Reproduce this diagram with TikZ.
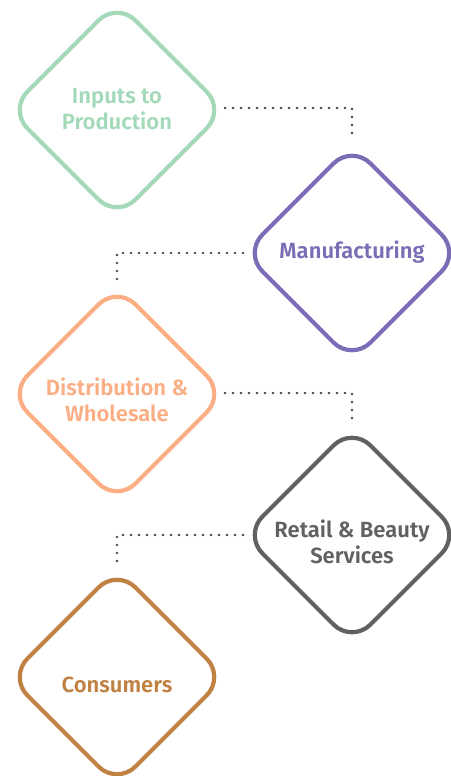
\documentclass[tikz,border=0pt]{standalone}
\usepackage{fontspec}
\setmainfont{Fira Sans}[BoldFont={Fira Sans SemiBold}]
\usetikzlibrary{shapes.geometric}
\definecolor{cgreen}{HTML}{A3D9B8}
\definecolor{cpurple}{HTML}{7B6CB5}
\definecolor{corange}{HTML}{FBAD84}
\definecolor{cgray}{HTML}{616161}
\definecolor{cbrown}{HTML}{C08243}
\definecolor{dotc}{HTML}{444444}
\begin{document}
\begin{tikzpicture}[x=1pt,y=-1pt,
  stage/.style={diamond, draw=#1, line width=4.2pt, rounded corners=26pt,
    minimum width=216pt, minimum height=216pt, inner sep=0pt, outer sep=0pt},
  stagetext/.style={text=#1, align=center, inner sep=0pt,
    font=\fontsize{22}{26.5}\selectfont\bfseries},
  conn/.style={draw=dotc, line width=2.7pt, line cap=round, dash pattern=on 0pt off 8pt}]
\useasboundingbox (0,0) rectangle (450,776);
\node[stage=cgreen]  (inp) at (117,110) {};
\node[stage=cpurple] (man) at (352,253) {};
\node[stage=corange] (dis) at (117,394) {};
\node[stage=cgray]   (ret) at (352,535) {};
\node[stage=cbrown]  (con) at (117,677) {};
\node[stagetext=cgreen]  (inpt) at (117,109) {Inputs to\\Production};
\node[stagetext=cpurple] (mant) at (352,252) {Manufacturing};
\node[stagetext=corange] (dist) at (117,400) {Distribution \&\\Wholesale};
\node[stagetext=cgray]   (rett) at (352,542) {Retail \& Beauty\\Services};
\node[stagetext=cbrown]  (cont) at (117,685) {Consumers};
\draw[conn] ([yshift=2pt]inp.east) -| ([yshift=7pt]man.north);
\draw[conn] ([xshift=-1pt]man.west) -| ([yshift=7pt]dis.north);
\draw[conn] ([yshift=1pt]dis.east) -| ([yshift=7pt]ret.north);
\draw[conn] ([xshift=-1pt]ret.west) -| ([yshift=7pt]con.north);
\end{tikzpicture}
\end{document}
